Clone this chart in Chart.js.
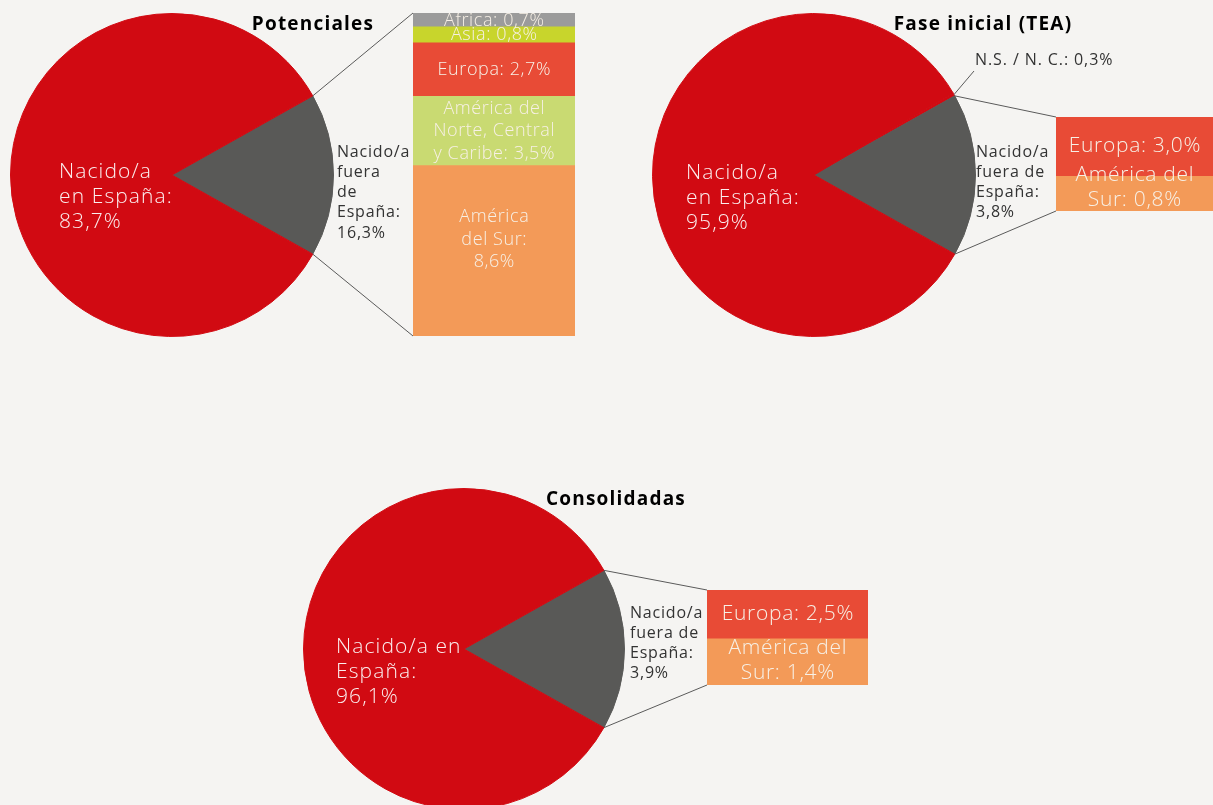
<!DOCTYPE html>
<html>
<head>
<meta charset="utf-8">
<script src="https://cdn.jsdelivr.net/npm/chart.js@4.4.0/dist/chart.umd.min.js"></script>
<style>
  html, body { margin: 0; padding: 0; background: #f5f4f2; overflow: hidden; }
  #wrap { position: relative; width: 1213px; height: 805px; overflow: hidden; }
  canvas { position: absolute; }
</style>
</head>
<body>
<div id="wrap">
  <canvas id="pie1" width="600" height="345" style="left:0;top:0"></canvas>
  <canvas id="bar1" width="162" height="323" style="left:413px;top:13px"></canvas>
  <canvas id="pie2" width="573" height="345" style="left:640px;top:0"></canvas>
  <canvas id="bar2" width="157" height="94" style="left:1056px;top:117px"></canvas>
  <canvas id="pie3" width="600" height="345" style="left:290px;top:470px"></canvas>
  <canvas id="bar3" width="161" height="95" style="left:707px;top:590px"></canvas>
</div>
<script>
// ---- data ----
// Potenciales
const potPieNames = ["Nacido/a fuera de España", "Nacido/a en España"];
const potPieValues = [16.3, 83.7];
const potBarNames = ["América del Sur", "América del Norte, Central y Caribe", "Europa", "Asia", "Africa"];
const potBarValues = [8.6, 3.5, 2.7, 0.8, 0.7];

// Fase inicial (TEA) - printed values, and slice/segment sizes as drawn in the original
const teaPieNames = ["N.S. / N. C.", "Nacido/a fuera de España", "Nacido/a en España"];
const teaPieValues = [0.3, 3.8, 95.9];
const teaPieDrawn = [0.3, 16.3, 83.4];
const teaBarNames = ["América del Sur", "Europa"];
const teaBarValues = [0.8, 3.0];
const teaBarDrawn = [1.4, 2.4];

// Consolidadas
const conPieNames = ["Nacido/a fuera de España", "Nacido/a en España"];
const conPieValues = [3.9, 96.1];
const conPieDrawn = [16.3, 83.7];
const conBarNames = ["América del Sur", "Europa"];
const conBarValues = [1.4, 2.5];
const conBarDrawn = [1.9, 2.0];

// ---- styles ----
const FONT = '"Open Sans", "Liberation Sans", sans-serif';
const RED = "#d10a12";
const GRAY = "#595957";
const C_AFRICA = "#9b9b9b";
const C_ASIA = "#c8d52c";
const C_EUROPA = "#e84b36";
const C_NORTE = "#c9da72";
const C_SUR = "#f39a58";
const LINE = "#5a5a5a";

const fmt = (v) => v.toFixed(1).replace(".", ",") + "%";

function drawLines(ctx, tpl, v, x, y, lh, align) {
  const lines = tpl.replace("{v}", fmt(v)).split("|");
  ctx.textAlign = align;
  ctx.textBaseline = "middle";
  lines.forEach((t, i) => ctx.fillText(t, x, y + i * lh));
}

const panels = [
  {
    pieId: "pie1", barId: "bar1", title: "Potenciales", titleAt: [313, 25],
    piePad: { left: 10, right: 266, top: 13, bottom: 8 },
    pie: { names: potPieNames, values: potPieValues, drawn: potPieValues, colors: [GRAY, RED], grayIdx: 0 },
    pieText: [
      { tpl: "Nacido/a|fuera|de|España:|{v}", dx: 165, dy: -23, lh: 20.3, size: 16, ls: 0.8, color: "#333333" },
      { tpl: "Nacido/a|en España:|{v}", dx: -113, dy: -3, lh: 25, size: 21, ls: 1.1, color: "#fbeeee" }
    ],
    bar: {
      names: potBarNames, values: potBarValues, drawn: potBarValues,
      colors: [C_SUR, C_NORTE, C_EUROPA, C_ASIA, C_AFRICA],
      text: ["América|del Sur:|{v}", "América del|Norte, Central|y Caribe: {v}", "Europa: {v}", "Asia: {v}", "Africa: {v}"],
      shift: [-11, 0, 0, 0, 1], size: 18, ls: 0.6, lh: 22.5
    }
  },
  {
    pieId: "pie2", barId: "bar2", title: "Fase inicial (TEA)", titleAt: [343, 25],
    piePad: { left: 12, right: 237, top: 13, bottom: 8 },
    pie: { names: teaPieNames, values: teaPieValues, drawn: teaPieDrawn, colors: [RED, GRAY, RED], grayIdx: 1 },
    pieText: [
      { tpl: "N.S. / N. C.: {v}", leader: true, dx: 161, dy: -115, size: 16, ls: 0.9, color: "#333333" },
      { tpl: "Nacido/a|fuera de|España:|{v}", dx: 162, dy: -23, lh: 20, size: 16, ls: 0.8, color: "#333333" },
      { tpl: "Nacido/a|en España:|{v}", dx: -128, dy: -2, lh: 25, size: 21, ls: 1.1, color: "#fbeeee" }
    ],
    bar: {
      names: teaBarNames, values: teaBarValues, drawn: teaBarDrawn,
      colors: [C_SUR, C_EUROPA],
      text: ["América del|Sur: {v}", "Europa: {v}"],
      shift: [-6, -1], size: 21, ls: 0.7, lh: 25
    }
  },
  {
    pieId: "pie3", barId: "bar3", title: "Consolidadas", titleAt: [326, 30],
    piePad: { left: 13, right: 265, top: 18, bottom: 5 },
    pie: { names: conPieNames, values: conPieValues, drawn: conPieDrawn, colors: [GRAY, RED], grayIdx: 0 },
    pieText: [
      { tpl: "Nacido/a|fuera de|España:|{v}", dx: 166, dy: -36, lh: 20, size: 16, ls: 0.8, color: "#333333" },
      { tpl: "Nacido/a en|España:|{v}", dx: -128, dy: -2, lh: 25, size: 21, ls: 1.1, color: "#fbeeee" }
    ],
    bar: {
      names: conBarNames, values: conBarValues, drawn: conBarDrawn,
      colors: [C_SUR, C_EUROPA],
      text: ["América del|Sur: {v}", "Europa: {v}"],
      shift: [-1, 0], size: 21, ls: 0.7, lh: 25
    }
  }
];

// labels inside the stacked bar segments
const barTextPlugin = {
  id: "barText",
  afterDatasetsDraw(chart) {
    const b = chart.$panel.bar;
    const ctx = chart.ctx;
    ctx.save();
    ctx.fillStyle = "#f7f0e6";
    ctx.font = "300 " + b.size + "px " + FONT;
    ctx.letterSpacing = b.ls + "px";
    chart.data.datasets.forEach((ds, i) => {
      const el = chart.getDatasetMeta(i).data[0];
      const lines = b.text[i].split("|").length;
      const cy = (el.y + el.base) / 2 + b.shift[i] - ((lines - 1) * b.lh) / 2;
      drawLines(ctx, b.text[i], b.values[i], el.x + b.ls / 2, cy, b.lh, "center");
    });
    ctx.restore();
  }
};

// title, slice labels, leader line and connectors to the bar
const pieTextPlugin = {
  id: "pieText",
  afterDraw(chart) {
    const p = chart.$panel;
    const ctx = chart.ctx;
    const arcs = chart.getDatasetMeta(0).data;
    const cx = arcs[0].x, cy = arcs[0].y;
    ctx.save();

    // title
    ctx.fillStyle = "#000";
    ctx.font = "bold 19px " + FONT;
    ctx.letterSpacing = "1.2px";
    ctx.textAlign = "center";
    ctx.textBaseline = "middle";
    ctx.fillText(p.title, p.titleAt[0], p.titleAt[1]);

    // slice labels
    p.pieText.forEach((t, i) => {
      ctx.fillStyle = t.color;
      ctx.font = (t.size > 18 ? "300 " : "400 ") + t.size + "px " + FONT;
      ctx.letterSpacing = t.ls + "px";
      drawLines(ctx, t.tpl, p.pie.values[i], cx + t.dx, cy + t.dy, t.lh || 0, "left");
      if (t.leader) {
        const a = arcs[i];
        const mid = (a.startAngle + a.endAngle) / 2;
        ctx.strokeStyle = LINE;
        ctx.lineWidth = 1;
        ctx.beginPath();
        ctx.moveTo(cx + a.outerRadius * Math.cos(mid), cy + a.outerRadius * Math.sin(mid));
        ctx.lineTo(cx + t.dx - 1, cy + t.dy + 11);
        ctx.stroke();
      }
    });

    // connectors from the "fuera de España" slice to the bar
    const g = arcs[p.pie.grayIdx];
    const barChart = p.barChart;
    const pr = chart.canvas.getBoundingClientRect();
    const br = barChart.canvas.getBoundingClientRect();
    const ox = br.left - pr.left, oy = br.top - pr.top;
    const bm = barChart.data.datasets.map((d, i) => barChart.getDatasetMeta(i).data[0]);
    const first = bm[0], last = bm[bm.length - 1];
    const bx = ox + first.x - first.width / 2;
    const topY = oy + last.y, botY = oy + first.base;
    ctx.strokeStyle = LINE;
    ctx.lineWidth = 1;
    ctx.beginPath();
    ctx.moveTo(cx + g.outerRadius * Math.cos(g.startAngle), cy + g.outerRadius * Math.sin(g.startAngle));
    ctx.lineTo(bx, topY);
    ctx.moveTo(cx + g.outerRadius * Math.cos(g.endAngle), cy + g.outerRadius * Math.sin(g.endAngle));
    ctx.lineTo(bx, botY);
    ctx.stroke();
    ctx.restore();
  }
};

panels.forEach((p) => {
  const b = p.bar;
  const total = b.drawn.reduce((s, v) => s + v, 0);
  const barChart = new Chart(document.getElementById(p.barId), {
    type: "bar",
    data: {
      labels: [""],
      datasets: b.names.map((n, i) => ({
        label: n,
        data: [b.drawn[i]],
        backgroundColor: b.colors[i],
        borderWidth: 0,
        barPercentage: 1,
        categoryPercentage: 1
      }))
    },
    options: {
      responsive: false,
      animation: false,
      layout: { padding: 0 },
      scales: {
        x: { stacked: true, display: false },
        y: { stacked: true, display: false, min: 0, max: total }
      },
      plugins: { legend: { display: false }, tooltip: { enabled: false } }
    },
    plugins: [{ id: "panelRef", beforeInit(c) { c.$panel = p; } }, barTextPlugin]
  });
  p.barChart = barChart;

  // rotate so the "fuera de España" slice is centred on the right
  const before = p.pie.drawn.slice(0, p.pie.grayIdx).reduce((s, v) => s + v, 0);
  const rot = 90 - (before + p.pie.drawn[p.pie.grayIdx] / 2) * 3.6;

  new Chart(document.getElementById(p.pieId), {
    type: "pie",
    data: {
      labels: p.pie.names,
      datasets: [{ data: p.pie.drawn, backgroundColor: p.pie.colors, borderColor: p.pie.colors, borderWidth: 1 }]
    },
    options: {
      responsive: false,
      animation: false,
      rotation: rot,
      layout: { padding: p.piePad },
      plugins: { legend: { display: false }, tooltip: { enabled: false } }
    },
    plugins: [{ id: "panelRef", beforeInit(c) { c.$panel = p; } }, pieTextPlugin]
  });
});
</script>
</body>
</html>
